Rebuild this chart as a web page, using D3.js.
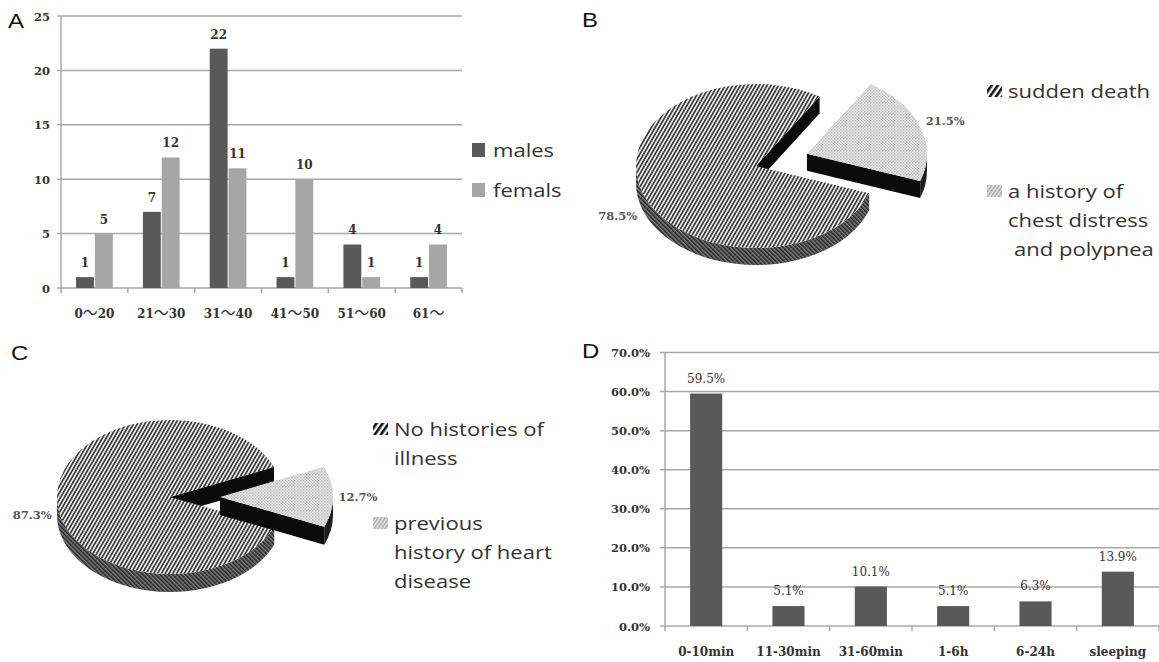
<!DOCTYPE html>
<html><head><meta charset="utf-8">
<script src="https://cdn.jsdelivr.net/npm/d3@7"></script>
<style>body{margin:0;background:#fff}svg{display:block;background:#fff}</style>
</head><body>
<svg id="chart" width="1159" height="662"></svg>
<script>
// ---------- DATA ----------
const ageGroups = ["0～20", "21～30", "31～40", "41～50", "51～60", "61～"];
const seriesNames = ["males", "femals"];
const males = [1, 7, 22, 1, 4, 1];
const females = [5, 12, 11, 10, 1, 4];
const ageTicks = [0, 5, 10, 15, 20, 25];

const pieBLabels = [["sudden death"], ["a history of", "chest distress", "and polypnea"]];
const pieBValues = [78.5, 21.5];

const pieCLabels = [["No histories of", "illness"], ["previous", "history of heart", "disease"]];
const pieCValues = [87.3, 12.7];

const timeCats = ["0-10min", "11-30min", "31-60min", "1-6h", "6-24h", "sleeping"];
const timeValues = [59.5, 5.1, 10.1, 5.1, 6.3, 13.9];
const timeTicks = [0, 10, 20, 30, 40, 50, 60, 70];

// ---------- SETUP ----------
const svg = d3.select("#chart");
const serif = "'DejaVu Serif', 'Liberation Serif', serif";
const sans = "'Open Sans', 'Noto Sans', sans-serif";
const cjk = "'Noto Sans CJK JP', 'Noto Sans CJK SC', sans-serif";
const gridCol = "#a8a8a8";
const txtCol = "#333";

const defs = svg.append("defs");
function linePattern(id, period, angle, bg, fg, w) {
  const p = defs.append("pattern").attr("id", id).attr("patternUnits", "userSpaceOnUse")
    .attr("width", period).attr("height", period).attr("patternTransform", `rotate(${angle})`);
  p.append("rect").attr("width", period).attr("height", period).attr("fill", bg);
  p.append("rect").attr("x", 0).attr("y", 0).attr("width", w).attr("height", period).attr("fill", fg);
}
linePattern("hatchTop", 3.3, 30, "#efefef", "#3c3c3c", 1.7);
linePattern("hatchSide", 3, -45, "#808080", "#222", 1.5);
linePattern("hatchIcon", 5, 35, "#ffffff", "#111", 2.6);
(function () {
  const p = defs.append("pattern").attr("id", "dots").attr("patternUnits", "userSpaceOnUse")
    .attr("width", 3).attr("height", 3);
  p.append("rect").attr("width", 3).attr("height", 3).attr("fill", "#e9e9e9");
  p.append("rect").attr("x", 0).attr("y", 0).attr("width", 1.5).attr("height", 1.5).attr("fill", "#bdbdbd");
  p.append("rect").attr("x", 1.5).attr("y", 1.5).attr("width", 1.5).attr("height", 1.5).attr("fill", "#c9c9c9");
})();
(function () {
  const p = defs.append("pattern").attr("id", "dotsIcon").attr("patternUnits", "userSpaceOnUse")
    .attr("width", 3).attr("height", 3).attr("patternTransform", "rotate(35)");
  p.append("rect").attr("width", 3).attr("height", 3).attr("fill", "#e2e2e2");
  p.append("rect").attr("width", 1.4).attr("height", 3).attr("fill", "#aaa");
})();

function panelLetter(t, x, y) {
  svg.append("g").attr("transform", `translate(${x},${y}) scale(1.2,1)`)
    .append("text").text(t).attr("font-family", "'Liberation Sans', Arial, sans-serif")
    .attr("font-size", 20).attr("fill", "#111");
}
function stretchText(g, t, x, y, size) {
  g.append("g").attr("transform", `translate(${x},${y}) scale(1.16,1)`)
    .append("text").text(t).attr("font-family", sans).attr("font-size", size).attr("fill", txtCol);
}

// ---------- PANEL A ----------
(function () {
  const g = svg.append("g");
  const x0 = d3.scaleBand().domain(ageGroups).range([61, 462]);
  const x1 = d3.scaleBand().domain(seriesNames).range([0, x0.bandwidth()]).paddingInner(0.05).paddingOuter(0.8);
  const y = d3.scaleLinear().domain([0, 25]).range([288, 16]);
  const color = d3.scaleOrdinal().domain(seriesNames).range(["#595959", "#a6a6a6"]);

  g.selectAll("line.grid").data(ageTicks).join("line")
    .attr("x1", 57).attr("x2", 462).attr("y1", d => y(d)).attr("y2", d => y(d))
    .attr("stroke", gridCol).attr("stroke-width", 1.5);
  g.append("line").attr("x1", 61).attr("x2", 61).attr("y1", y(25)).attr("y2", y(0))
    .attr("stroke", gridCol).attr("stroke-width", 1.5);
  const bounds = ageGroups.map(d => x0(d)).concat([x0.range()[1]]);
  g.selectAll("line.tick").data(bounds).join("line")
    .attr("x1", d => d).attr("x2", d => d).attr("y1", y(0)).attr("y2", y(0) + 5)
    .attr("stroke", gridCol).attr("stroke-width", 1.5);

  g.selectAll("text.yl").data(ageTicks).join("text")
    .attr("x", 50).attr("y", d => y(d) + 4.5).attr("text-anchor", "end")
    .attr("font-family", serif).attr("font-weight", "bold").attr("font-size", 11.5).attr("fill", txtCol)
    .text(d => d);
  const xl = g.selectAll("text.xl").data(ageGroups).join("text")
    .attr("x", d => x0(d) + x0.bandwidth() / 2).attr("y", 318).attr("text-anchor", "middle")
    .attr("font-family", serif).attr("font-weight", "bold").attr("font-size", 12).attr("fill", txtCol);
  xl.each(function (d) {
    const t = d3.select(this);
    d.split(/(～)/).filter(s => s.length).forEach(part => {
      const ts = t.append("tspan").text(part);
      if (part === "～") ts.attr("font-family", cjk).attr("font-size", 15).attr("font-weight", "normal");
    });
  });

  const rows = [];
  ageGroups.forEach((grp, i) => {
    rows.push({ grp, key: "males", v: males[i] });
    rows.push({ grp, key: "femals", v: females[i] });
  });
  g.selectAll("rect.bar").data(rows).join("rect")
    .attr("x", d => x0(d.grp) + x1(d.key)).attr("width", x1.bandwidth())
    .attr("y", d => y(d.v)).attr("height", d => y(0) - y(d.v))
    .attr("fill", d => color(d.key));
  g.selectAll("text.val").data(rows).join("text")
    .attr("x", d => x0(d.grp) + x1(d.key) + x1.bandwidth() / 2).attr("y", d => y(d.v) - 10)
    .attr("text-anchor", "middle").attr("font-family", serif).attr("font-weight", "bold")
    .attr("font-size", 12).attr("fill", txtCol).text(d => d.v);

  const leg = g.append("g");
  seriesNames.forEach((s, i) => {
    leg.append("rect").attr("x", 472).attr("y", 143 + i * 40).attr("width", 13).attr("height", 14).attr("fill", color(s));
    stretchText(leg, s, 493, 157 + i * 40, 19);
  });
  panelLetter("A", 8, 28);
})();

// ---------- 3D PIE ----------
function drawPie(opt) {
  const { cx, cy, rx, ry, depth, values, smallStartDeg, explode, labels, legendX, legendY, legendLines } = opt;
  const g = svg.append("g");
  const total = d3.sum(values);
  const start = (smallStartDeg + 360 * values[1] / total) * Math.PI / 180;
  const arcs = d3.pie().sort(null).startAngle(start).endAngle(start + 2 * Math.PI)(values);
  const fmt = v => d3.format(".1f")(v) + "%";

  arcs.forEach((a, i) => {
    const mid = (a.startAngle + a.endAngle) / 2;
    const ox = cx + explode[i] * Math.sin(mid);
    const oy = cy - explode[i] * Math.cos(mid) * ry / rx;
    const P = (ang, dz = 0) => [ox + rx * Math.sin(ang), oy - ry * Math.cos(ang) + dz];
    const s = a.startAngle, e = a.endAngle;
    const topFill = i === 0 ? "url(#hatchTop)" : "url(#dots)";
    const sideFill = i === 0 ? "url(#hatchSide)" : "#1c1c1c";

    // cut walls
    [[s, s - Math.PI / 2], [e, e + Math.PI / 2]].forEach(([ang, n]) => {
      if (Math.cos(n) < -0.01) {
        const p = P(ang), pd = P(ang, depth);
        g.append("path").attr("d", `M${ox},${oy}L${p}L${pd}L${ox},${oy + depth}Z`).attr("fill", "#0b0b0b");
      }
    });
    // outer walls (front half)
    for (let k = 0; k < 2; k++) {
      const lo = Math.max(s, Math.PI / 2 + 2 * Math.PI * k), hi = Math.min(e, 1.5 * Math.PI + 2 * Math.PI * k);
      if (hi > lo) {
        const p1 = P(lo), p2 = P(hi), p2d = P(hi, depth), p1d = P(lo, depth);
        g.append("path").attr("d",
          `M${p1}A${rx},${ry} 0 0 1 ${p2}L${p2d}A${rx},${ry} 0 0 0 ${p1d}Z`).attr("fill", sideFill);
      }
    }
    // top face
    const ps = P(s), pe = P(e);
    const large = (e - s) > Math.PI ? 1 : 0;
    g.append("path").attr("d", `M${ox},${oy}L${ps}A${rx},${ry} 0 ${large} 1 ${pe}Z`).attr("fill", topFill);

    // label
    const lr = 1.22 * rx;
    const lx = ox + lr * Math.sin(mid);
    const ly = oy - lr * Math.cos(mid) * ry / rx + (i === 0 ? depth : 0) + 4;
    g.append("text").attr("x", lx).attr("y", ly).attr("text-anchor", "middle")
      .attr("font-family", serif).attr("font-weight", "bold").attr("font-size", 11.5).attr("fill", "#555")
      .text(fmt(values[i]));
  });

  // legend
  labels.forEach((lines, i) => {
    const by = legendY[i];
    g.append("rect").attr("x", legendX - 21).attr("y", by - 13).attr("width", 15).attr("height", 12)
      .attr("fill", i === 0 ? "url(#hatchIcon)" : "url(#dotsIcon)");
    lines.forEach((t, j) => stretchText(g, t, legendX + (legendLines && legendLines[i] && legendLines[i][j] || 0), by + j * 29, 19));
  });
}

drawPie({
  cx: 756, cy: 166, rx: 120, ry: 82, depth: 17, values: pieBValues, smallStartDeg: 32,
  explode: [0, 54], labels: pieBLabels, legendX: 1008, legendY: [98, 198], legendLines: [[0], [0, 0, 6]]
});
panelLetter("B", 582, 27);

drawPie({
  cx: 170, cy: 497, rx: 113, ry: 77, depth: 18, values: pieCValues, smallStartDeg: 67,
  explode: [0, 50], labels: pieCLabels, legendX: 394, legendY: [436, 530]
});
panelLetter("C", 11, 360);

// ---------- PANEL D ----------
(function () {
  const g = svg.append("g");
  const x = d3.scaleBand().domain(timeCats).range([665, 1159]).paddingInner(0.61).paddingOuter(0.305);
  const y = d3.scaleLinear().domain([0, 70]).range([626, 352.5]);
  const pct = v => d3.format(".1f")(v) + "%";

  g.selectAll("line.grid").data(timeTicks).join("line")
    .attr("x1", 660).attr("x2", 1159).attr("y1", d => y(d)).attr("y2", d => y(d))
    .attr("stroke", gridCol).attr("stroke-width", 1.5);
  g.append("line").attr("x1", 665).attr("x2", 665).attr("y1", y(70)).attr("y2", y(0))
    .attr("stroke", gridCol).attr("stroke-width", 1.5);
  const step = x.step();
  const bounds = d3.range(timeCats.length + 1).map(i => x.range()[0] + i * step);
  g.selectAll("line.tick").data(bounds).join("line")
    .attr("x1", d => d).attr("x2", d => d).attr("y1", y(0)).attr("y2", y(0) + 5)
    .attr("stroke", gridCol).attr("stroke-width", 1.5);

  g.selectAll("text.yl").data(timeTicks).join("text")
    .attr("x", 650).attr("y", d => y(d) + 4.5).attr("text-anchor", "end")
    .attr("font-family", serif).attr("font-weight", "bold").attr("font-size", 11.5).attr("fill", txtCol)
    .text(pct);
  g.selectAll("text.xl").data(timeCats).join("text")
    .attr("x", d => x(d) + x.bandwidth() / 2).attr("y", 656).attr("text-anchor", "middle")
    .attr("font-family", serif).attr("font-weight", "bold").attr("font-size", 12).attr("fill", txtCol)
    .text(d => d);

  g.selectAll("rect.bar").data(timeValues).join("rect")
    .attr("x", (d, i) => x(timeCats[i])).attr("width", x.bandwidth())
    .attr("y", d => y(d)).attr("height", d => y(0) - y(d)).attr("fill", "#595959");
  g.selectAll("text.val").data(timeValues).join("text")
    .attr("x", (d, i) => x(timeCats[i]) + x.bandwidth() / 2).attr("y", d => y(d) - 11)
    .attr("text-anchor", "middle").attr("font-family", serif)
    .attr("font-size", 12).attr("fill", txtCol).text(pct);
  panelLetter("D", 582, 358);
})();
</script>
</body></html>
